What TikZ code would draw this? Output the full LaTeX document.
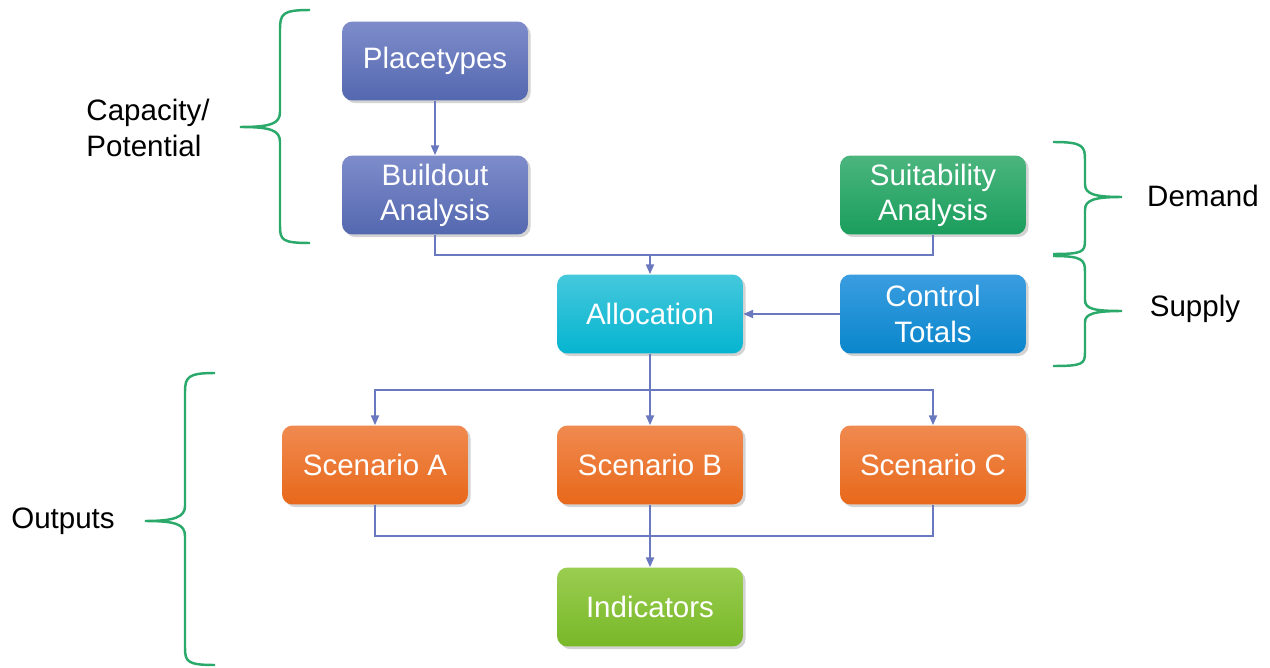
\documentclass[tikz,border=0pt]{standalone}
\usepackage{fontspec}
\setmainfont{Liberation Sans}
\usetikzlibrary{arrows.meta,shadows}

\definecolor{linkblue}{HTML}{6A78C0}
\definecolor{bracegreen}{HTML}{2BA96B}
\definecolor{purpletop}{HTML}{7E8CCA}
\definecolor{purplebot}{HTML}{5468B0}
\definecolor{greentop}{HTML}{4BB57E}
\definecolor{greenbot}{HTML}{1A9E5C}
\definecolor{cyantop}{HTML}{45C8DC}
\definecolor{cyanbot}{HTML}{05B4D0}
\definecolor{bluetop}{HTML}{3A9DE0}
\definecolor{bluebot}{HTML}{0A86CC}
\definecolor{orangetop}{HTML}{F08A50}
\definecolor{orangebot}{HTML}{E8681A}
\definecolor{limetop}{HTML}{9ACD50}
\definecolor{limebot}{HTML}{78B828}
\tikzset{
  box/.style={rounded corners=6pt, minimum width=3.72cm, minimum height=1.58cm,
    align=center, text=white, font=\fontsize{16.8}{20}\selectfont,
    drop shadow={opacity=0.35, shadow xshift=1.5pt, shadow yshift=-1.5pt}},
  link/.style={draw=linkblue, line width=1.1pt},
  tip/.style={-{Triangle[length=5.5pt,width=4.5pt]}},
  brace/.style={draw=bracegreen, line width=1.4pt},
  side/.style={font=\fontsize{16.8}{20}\selectfont, align=left}
}

\begin{document}
\begin{tikzpicture}[x=0.02cm, y=-0.02cm]
  % \draw[help lines](0,0) grid (1270,668);
  \useasboundingbox (0,0) rectangle (1270,668);

  \draw (435,61) node[box, top color=purpletop, bottom color=purplebot] (place) {Placetypes};
  \draw (435,195) node[box, top color=purpletop, bottom color=purplebot] (build) {Buildout\\Analysis};
  \draw (933,195) node[box, top color=greentop, bottom color=greenbot] (suit) {Suitability\\Analysis};
  \draw (650,314) node[box, top color=cyantop, bottom color=cyanbot] (alloc) {Allocation};
  \draw (933,314) node[box, top color=bluetop, bottom color=bluebot] (ctrl) {Control\\Totals};
  \draw (375,465) node[box, top color=orangetop, bottom color=orangebot] (scena) {Scenario A};
  \draw (650,465) node[box, top color=orangetop, bottom color=orangebot] (scenb) {Scenario B};
  \draw (933,465) node[box, top color=orangetop, bottom color=orangebot] (scenc) {Scenario C};
  \draw (650,607) node[box, top color=limetop, bottom color=limebot] (indic) {Indicators};

  \coordinate (join) at (650,255);
  \coordinate (split) at (650,390);
  \coordinate (merge) at (650,536);

  \draw[link,tip] (place) -- (build);
  \draw[link] (build) |- (join);
  \draw[link] (suit) |- (join);
  \draw[link,tip] (join) -- (alloc);
  \draw[link,tip] (ctrl) -- (alloc);
  \draw[link] (alloc) -- (split);
  \draw[link,tip] (split) -| (scena);
  \draw[link,tip] (split) -- (scenb);
  \draw[link,tip] (split) -| (scenc);
  \draw[link] (scena) |- (merge);
  \draw[link] (scenc) |- (merge);
  \draw[link,tip] (scenb) -- (indic);

  % braces
  \draw[brace] (310,10) .. controls (282,10) and (280,14) .. (280,30) -- (280,112)
    .. controls (280,124) and (270,127) .. (240,127)
    .. controls (270,127) and (280,130) .. (280,142) -- (280,226)
    .. controls (280,240) and (282,243) .. (310,243);
  \draw[brace] (1053,142) .. controls (1083,142) and (1085,146) .. (1085,160) -- (1085,184)
    .. controls (1085,194) and (1094,197) .. (1122,197)
    .. controls (1094,197) and (1085,200) .. (1085,210) -- (1085,240)
    .. controls (1085,252) and (1083,254) .. (1053,254);
  \draw[brace] (1053,256) .. controls (1083,256) and (1085,260) .. (1085,272) -- (1085,300)
    .. controls (1085,309) and (1094,311) .. (1122,311)
    .. controls (1094,311) and (1085,314) .. (1085,322) -- (1085,352)
    .. controls (1085,364) and (1083,366) .. (1053,366);
  \draw[brace] (215,373) .. controls (188,373) and (185,377) .. (185,392) -- (185,506)
    .. controls (185,517) and (175,521) .. (145,521)
    .. controls (175,521) and (185,524) .. (185,536) -- (185,648)
    .. controls (185,662) and (188,665) .. (215,665);

  \draw (148,128) node[side] (capa) {Capacity/\\Potential};
  \draw (1203,196) node[side] (demand) {Demand};
  \draw (1195,309) node[side] (supply) {Supply};
  \draw (63,521) node[side] (outputs) {Outputs};
\end{tikzpicture}
\end{document}
